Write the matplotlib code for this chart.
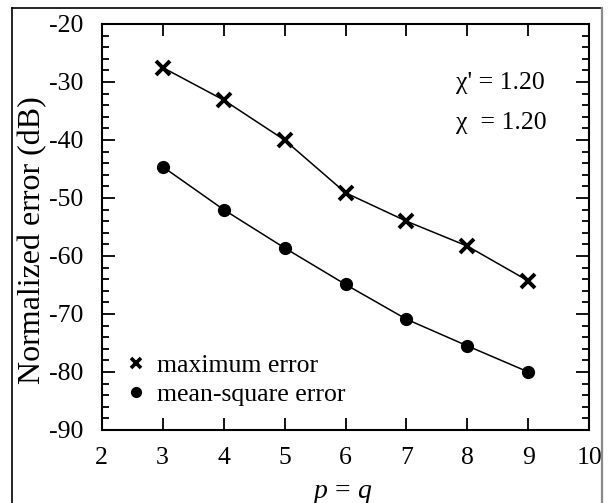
import matplotlib
matplotlib.use("Agg")
import matplotlib.pyplot as plt
from matplotlib.lines import Line2D
from matplotlib.ticker import MultipleLocator

plt.rcParams['font.family'] = ['Liberation Serif', 'DejaVu Serif']
plt.rcParams['mathtext.fontset'] = 'custom'
plt.rcParams['mathtext.rm'] = 'Liberation Serif'
plt.rcParams['mathtext.it'] = 'Liberation Serif:italic'
plt.rcParams['axes.unicode_minus'] = False

# error vs. order p = q
order = [3, 4, 5, 6, 7, 8, 9]
max_err = [-27.5, -33.1, -40.0, -49.1, -54.0, -58.3, -64.3]
ms_err = [-44.6, -52.0, -58.6, -64.9, -70.9, -75.5, -80.0]
xticks = [2, 3, 4, 5, 6, 7, 8, 9, 10]
yticks = [-90, -80, -70, -60, -50, -40, -30, -20]
labels = ['maximum error', 'mean-square error']
params = ["\u03c7' = 1.20", "\u03c7  = 1.20"]

W, H = 611, 503
fig = plt.figure(figsize=(W / 100, H / 100), dpi=100)
ax = fig.add_axes([101.7 / W, 1 - 430 / H, 487.6 / W, 406 / H])

ax.plot(order, max_err, color='black', lw=1.1, marker='x', ms=10.5, mew=2.8)
ax.plot(order, ms_err, color='black', lw=1.1, marker='o', ms=8.5)

ax.set_xlim(2, 10)
ax.set_ylim(-90, -20)
ax.set_xticks(xticks)
ax.set_yticks(yticks)
ax.yaxis.set_minor_locator(MultipleLocator(2))
ax.tick_params(which='both', direction='in', top=True, right=True, width=1.3,
               labelsize=18.5, colors='black')
ax.tick_params(axis='x', which='major', length=8.5, pad=12)
ax.tick_params(axis='y', which='major', length=9.5, pad=13)
ax.tick_params(axis='y', which='minor', length=5)
for s in ax.spines.values():
    s.set_linewidth(1.5)

ax.set_ylabel('Normalized error (dB)', fontsize=23)
ax.yaxis.set_label_coords(-0.112, 0.468)
ax.set_xlabel('$p$ = $q$', fontsize=20, va='baseline')
ax.xaxis.set_label_coords(0.494, -0.167)

ax.text(7.81, -30.2, params[0], fontsize=18.5, ha='left', va='center')
ax.text(7.81, -37.1, params[1], fontsize=18.5, ha='left', va='center')

handles = [Line2D([], [], ls='none', color='black', marker='x', ms=7.5, mew=2.6),
           Line2D([], [], ls='none', color='black', marker='o', ms=7)]
ax.legend(handles, labels, loc='center left', bbox_to_anchor=(0.044, 0.123),
          frameon=False, fontsize=18.5, handlelength=1.0, handletextpad=0.3,
          borderpad=0, borderaxespad=0, labelspacing=0.2)

# page frame around the plot
fig.add_artist(Line2D([12 / W, 12 / W], [0, 1 - 8 / H], color='black', lw=1.2))
fig.add_artist(Line2D([12 / W, 602 / W], [1 - 8 / H, 1 - 8 / H], color='black', lw=1.2))
fig.add_artist(Line2D([602 / W, 602 / W], [0, 1 - 8 / H], color='#8a8a8a', lw=1.6))

fig.savefig('out.png', dpi=100)
